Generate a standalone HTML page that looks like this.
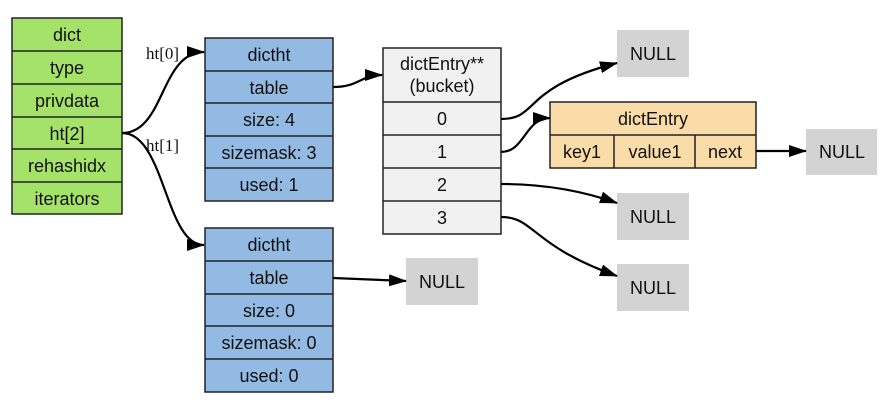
<!DOCTYPE html>
<html><head><meta charset="utf-8"><style>
html,body{margin:0;padding:0;background:#fff;width:890px;height:409px;overflow:hidden}
svg text{font-family:"Liberation Sans","DejaVu Sans",sans-serif;font-size:18px;fill:#111}
.s{font-family:"Liberation Serif",serif;font-size:17px}
</style></head><body>
<svg width="890" height="409" xmlns="http://www.w3.org/2000/svg">
<defs><marker id="b" markerWidth="18" markerHeight="12" refX="17" refY="6" orient="auto" markerUnits="userSpaceOnUse"><path d="M0,0 L18,6 L0,12 z" fill="#000"/></marker></defs>
<g stroke="#222" stroke-width="1.5">
<rect x="12" y="18" width="110" height="196" fill="#a5e26a"/>
<path d="M12 51H122M12 84H122M12 117H122M12 149H122M12 182H122"/>
<rect x="205" y="38" width="128" height="163" fill="#93bae2"/>
<path d="M205 71H333M205 103H333M205 136H333M205 168H333"/>
<rect x="205" y="228" width="128" height="164" fill="#93bae2"/>
<path d="M205 261H333M205 294H333M205 326H333M205 359H333"/>
<rect x="383" y="48" width="118" height="186" fill="#f1f1f1"/>
<path d="M383 102H501M383 135H501M383 168H501M383 201H501"/>
<rect x="550" y="102" width="206" height="66" fill="#fadca9"/>
<path d="M550 135H756M614 135V168M695 135V168"/>
</g>
<g fill="#d3d3d3">
<rect x="617" y="30" width="72" height="47"/><rect x="806" y="129" width="71" height="46"/>
<rect x="617" y="193" width="72" height="47"/><rect x="617" y="264" width="72" height="47"/>
<rect x="406" y="258" width="72" height="47"/>
</g>
<g text-anchor="middle">
<text x="67" y="41">dict</text><text x="67" y="74">type</text><text x="67" y="107">privdata</text><text x="67" y="140">ht[2]</text><text x="67" y="172">rehashidx</text><text x="67" y="205">iterators</text>
<text x="269" y="61">dictht</text><text x="269" y="94">table</text><text x="269" y="126">size: 4</text><text x="269" y="159">sizemask: 3</text><text x="269" y="191">used: 1</text>
<text x="269" y="251">dictht</text><text x="269" y="284">table</text><text x="269" y="317">size: 0</text><text x="269" y="349">sizemask: 0</text><text x="269" y="382">used: 0</text>
<text x="442" y="70">dictEntry**</text><text x="442" y="92">(bucket)</text>
<text x="442" y="125">0</text><text x="442" y="158">1</text><text x="442" y="191">2</text><text x="442" y="224">3</text>
<text x="653" y="125">dictEntry</text><text x="582" y="158">key1</text><text x="655" y="158">value1</text><text x="725" y="158">next</text>
<text x="653" y="60">NULL</text><text x="842" y="158">NULL</text><text x="653" y="223">NULL</text><text x="653" y="294">NULL</text><text x="442" y="288">NULL</text>
</g>
<text class="s" x="146" y="59">ht[0]</text><text class="s" x="146" y="151">ht[1]</text>
<g fill="none" stroke="#000" stroke-width="2.2">
<path d="M122 133C165 133 160 52 204 52" marker-end="url(#b)"/>
<path d="M122 133C165 133 165 245 204 245" marker-end="url(#b)"/>
<path d="M333 87C360 87 360 75 382 75" marker-end="url(#b)"/>
<path d="M501 119C540 119 520 88 617 63" marker-end="url(#b)"/>
<path d="M501 152C525 152 525 118 550 118" marker-end="url(#b)"/>
<path d="M501 184C540 184 580 190 617 203" marker-end="url(#b)"/>
<path d="M501 217C535 217 530 245 617 276" marker-end="url(#b)"/>
<path d="M756 151H806" marker-end="url(#b)"/>
<path d="M333 278L406 281" marker-end="url(#b)"/>
</g>
</svg>
</body></html>
